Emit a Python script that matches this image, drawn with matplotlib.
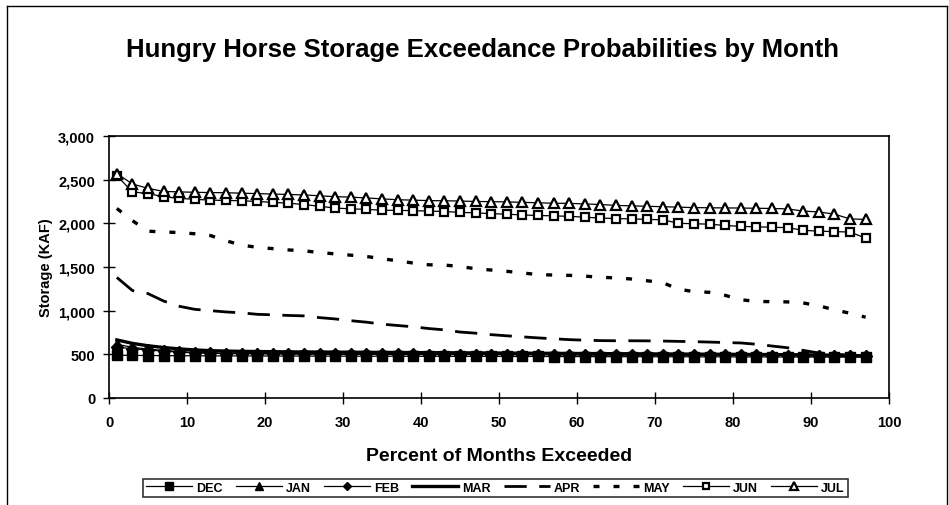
import matplotlib.pyplot as plt
from matplotlib.lines import Line2D

plt.rcParams['font.family'] = ['Liberation Sans', 'DejaVu Sans']

# percent of months exceeded
pct = [1, 3, 5, 7, 9, 11, 13, 15, 17, 19, 21, 23, 25, 27, 29, 31, 33, 35, 37, 39,
       41, 43, 45, 47, 49, 51, 53, 55, 57, 59, 61, 63, 65, 67, 69, 71, 73, 75, 77, 79,
       81, 83, 85, 87, 89, 91, 93, 95, 97]

# storage (KAF)
dec = [490, 488, 486, 485, 484, 483, 482, 482, 481, 481, 480, 480, 480, 479, 479, 479, 478, 478, 478, 477,
       477, 477, 476, 476, 476, 475, 475, 475, 474, 474, 474, 473, 473, 473, 472, 472, 472, 471, 471, 471,
       470, 470, 470, 469, 469, 469, 468, 468, 468]
jan = [615, 580, 560, 545, 532, 522, 516, 513, 511, 510, 509, 508, 507, 506, 505, 504, 504, 503, 503, 502,
       502, 501, 501, 500, 500, 499, 499, 498, 498, 497, 497, 496, 496, 495, 495, 494, 494, 493, 493, 492,
       492, 491, 491, 490, 490, 489, 489, 488, 487]
feb = [585, 562, 550, 536, 525, 516, 511, 508, 506, 505, 504, 503, 502, 501, 500, 500, 499, 499, 498, 498,
       497, 497, 496, 496, 495, 495, 494, 494, 493, 493, 492, 492, 491, 491, 490, 490, 489, 489, 488, 488,
       487, 487, 486, 486, 485, 485, 484, 484, 483]
mar = [665, 625, 598, 578, 562, 550, 542, 537, 534, 532, 530, 528, 527, 526, 525, 524, 523, 522, 521, 520,
       519, 518, 517, 516, 515, 514, 513, 512, 511, 510, 509, 508, 507, 506, 505, 504, 503, 502, 501, 500,
       499, 498, 497, 496, 494, 492, 490, 486, 482]
apr = [1380, 1230, 1195, 1110, 1050, 1015, 1000, 985, 975, 958, 952, 945, 940, 920, 905, 885, 868, 845, 830, 815,
       795, 780, 755, 742, 725, 712, 700, 688, 678, 668, 662, 657, 655, 655, 654, 652, 648, 645, 640, 635,
       630, 615, 595, 575, 545, 515, 500, 490, 482]
may = [2170, 2030, 1910, 1900, 1895, 1880, 1860, 1800, 1750, 1725, 1710, 1695, 1685, 1665, 1650, 1635, 1620, 1595, 1570, 1545,
       1525, 1522, 1505, 1480, 1465, 1450, 1432, 1412, 1408, 1404, 1395, 1382, 1375, 1362, 1342, 1320, 1245, 1218, 1210, 1175,
       1125, 1105, 1103, 1100, 1088, 1055, 1010, 970, 925]
jun = [2545, 2360, 2340, 2305, 2285, 2275, 2265, 2262, 2258, 2250, 2240, 2230, 2215, 2195, 2175, 2165, 2160, 2150, 2148, 2145,
       2140, 2135, 2125, 2120, 2110, 2105, 2095, 2090, 2085, 2080, 2070, 2060, 2055, 2050, 2045, 2040, 2000, 1995, 1990, 1975,
       1965, 1960, 1955, 1950, 1920, 1910, 1905, 1900, 1830]
jul = [2570, 2450, 2400, 2365, 2360, 2355, 2352, 2350, 2345, 2340, 2335, 2330, 2325, 2315, 2305, 2300, 2290, 2280, 2270, 2265,
       2260, 2258, 2255, 2250, 2248, 2245, 2240, 2235, 2230, 2228, 2222, 2215, 2205, 2200, 2195, 2190, 2185, 2180, 2178, 2176,
       2175, 2172, 2170, 2165, 2140, 2130, 2105, 2050, 2045]

fig = plt.figure(figsize=(9.49, 5.06), dpi=100)
ax = fig.add_axes([0.1149, 0.2115, 0.8219, 0.5178])

ax.plot(pct, dec, color='black', lw=0.9, marker='s', ms=7, mfc='black', label='DEC')
ax.plot(pct, jan, color='black', lw=0.9, marker='^', ms=7, mfc='black', label='JAN')
ax.plot(pct, feb, color='black', lw=0.9, marker='D', ms=6, mfc='black', label='FEB')
ax.plot(pct, mar, color='black', lw=2.4, label='MAR')
ax.plot(pct, apr, color='black', lw=2.0, linestyle=(0, (8.0, 4.5)), label='APR')
ax.plot(pct, may, color='black', lw=2.4, linestyle=(0, (1.8, 4.2)), label='MAY')
ax.plot(pct, jun, color='black', lw=0.9, marker='s', ms=6.3, mfc='white', mew=1.6, label='JUN')
ax.plot(pct, jul, color='black', lw=0.9, marker='^', ms=7, mfc='white', mew=1.6, label='JUL')

ax.set_xlim(0, 100)
ax.set_ylim(0, 3000)
ax.set_xticks(range(0, 101, 10))
ax.set_yticks(range(0, 3001, 500))
ax.set_yticklabels([f'{v:,}' for v in range(0, 3001, 500)])
ax.tick_params(direction='inout', length=8, width=1, labelsize=10.5)
for lab in ax.get_xticklabels() + ax.get_yticklabels():
    lab.set_fontweight('bold')
ax.tick_params(axis='x', pad=8)
ax.tick_params(axis='y', pad=6)
for s in ax.spines.values():
    s.set_linewidth(1.2)

ax.set_xlabel('Percent of Months Exceeded', fontsize=14, fontweight='bold', labelpad=13)
ax.set_ylabel('Storage (KAF)', fontsize=10.5, fontweight='bold', labelpad=4)
fig.text(0.508, 0.901, 'Hungry Horse Storage Exceedance Probabilities by Month',
         ha='center', va='center', fontsize=18.5, fontweight='bold')

leg = fig.legend(loc='center', bbox_to_anchor=(0.522, 0.034), ncol=8, frameon=True,
                 fancybox=False, edgecolor='black', fontsize=9, handlelength=3.7,
                 columnspacing=1.05, handletextpad=0.3, borderpad=0.25, borderaxespad=0,
                 markerscale=0.75)
leg.get_frame().set_linewidth(1.2)
for t in leg.get_texts():
    t.set_fontweight('bold')

# outer border
for xs, ys in [([0.007, 0.007], [0.0, 0.986]), ([0.007, 0.998], [0.986, 0.986]), ([0.998, 0.998], [0.0, 0.986])]:
    fig.add_artist(Line2D(xs, ys, color='black', lw=1, transform=fig.transFigure))

fig.savefig('out.png', dpi=100)
